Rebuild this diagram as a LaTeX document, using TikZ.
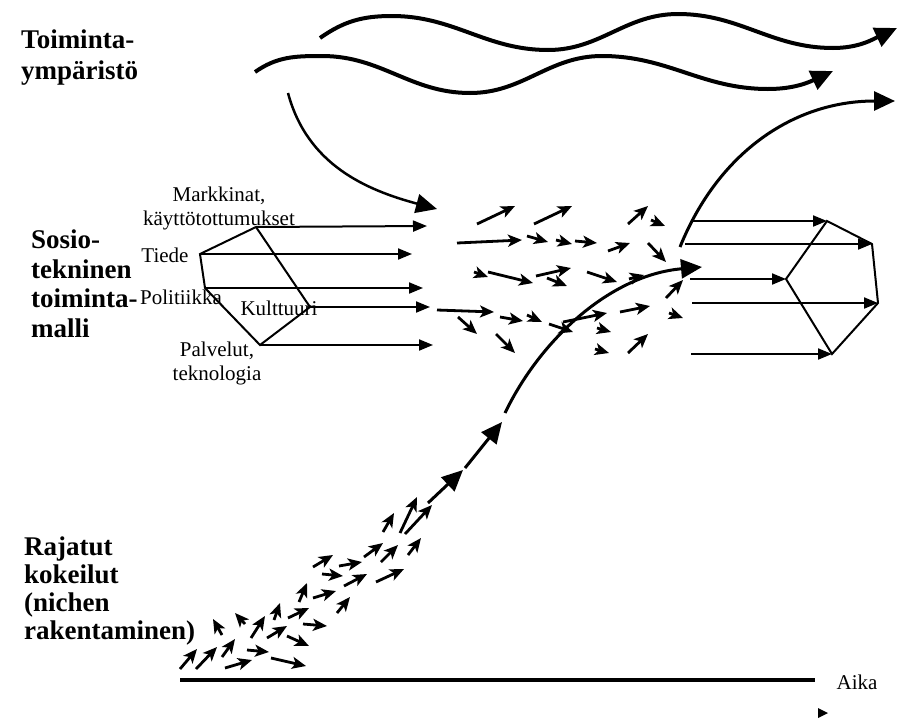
\documentclass[tikz,border=0pt]{standalone}
\usepackage{fontspec}
\setmainfont{Liberation Serif}[BoldFont={Liberation Serif Bold}]
\usetikzlibrary{arrows.meta}
\tikzset{
  etichetta/.style={font=\fontsize{21}{24}\selectfont, inner sep=0pt, align=center},
  titolo/.style={font=\bfseries\fontsize{27}{29.5}\selectfont, inner sep=0pt, align=left, anchor=west},
  lato/.style={line width=2pt, line join=miter},
  freccia/.style={line width=2pt, -{Triangle[length=14pt,width=11pt]}},
  frecciona/.style={line width=3pt, -{Triangle[length=21pt,width=19pt]}},
  onda/.style={line width=4pt, -{Triangle[length=22pt,width=20pt]}},
  frecetta/.style={line width=2.8pt, -{Stealth[length=14pt,width=12pt,inset=3.5pt]}},
}
\begin{document}
\begin{tikzpicture}[x=1pt,y=1pt]
    \useasboundingbox (0,0) rectangle (899,-718);

    % titoli
    \node[titolo, font=\bfseries\fontsize{27}{31}\selectfont] (ambiente) at (21,-58) {Toiminta-\\ympäristö};
    \node[titolo] (regime) at (31,-284) {Sosio-\\tekninen\\toiminta-\\malli};
    \node[titolo, font=\bfseries\fontsize{27}{28}\selectfont] (nicchie) at (24,-591) {Rajatut\\kokeilut\\(nichen\\rakentaminen)};

    % onde in alto
    \draw[onda] (320,-38) to[out=35,in=180] (392,-16) to[out=0,in=180] (548,-50)
        to[out=0,in=180] (678,-14) to[out=0,in=180] (833,-48) to[out=0,in=205] (897,-28);
    \draw[onda] (255,-72) to[out=35,in=180] (322,-56) to[out=0,in=180] (470,-93)
        to[out=0,in=180] (602,-56) to[out=0,in=180] (768,-89) to[out=0,in=205] (833,-71);
    \draw[frecciona, line width=2.5pt] (288,-93) to[out=-75,in=165] (437,-209);
    \draw[frecciona] (680,-247) to[out=68,in=180] (895,-101);

    % pentagono sinistro
    \coordinate (ma) at (256,-227);
    \coordinate (ti) at (200,-254);
    \coordinate (po) at (205,-288);
    \coordinate (pa) at (260,-345);
    \coordinate (ku) at (310,-307);
    \draw[lato] (ma) -- (ti) -- (po) -- (pa) -- (ku) -- cycle;
    \coordinate (fma) at (427,-226);
    \coordinate (fti) at (412,-254);
    \coordinate (fpo) at (423,-288);
    \coordinate (fku) at (430,-307);
    \coordinate (fpa) at (433,-345);
    \draw[freccia] (ma) -- (fma);
    \draw[freccia] (ti) -- (fti);
    \draw[freccia] (po) -- (fpo);
    \draw[freccia] (ku) -- (fku);
    \draw[freccia] (pa) -- (fpa);

    \node[etichetta] (mercati) at (219,-208) {Markkinat,\\käyttötottumukset};
    \node[etichetta] (scienza) at (165,-255) {Tiede};
    \node[etichetta] (politica) at (181,-297) {Politiikka};
    \node[etichetta] (cultura) at (279,-308) {Kulttuuri};
    \node[etichetta] (servizi) at (217,-363) {Palvelut,\\teknologia};

    % pentagono destro
    \coordinate (ra) at (827,-221);
    \coordinate (rb) at (872,-244);
    \coordinate (rc) at (878,-303);
    \coordinate (rd) at (832,-354);
    \coordinate (re) at (786,-279);
    \draw[lato] (ra) -- (rb) -- (rc) -- (rd) -- (re) -- cycle;
    \coordinate (sra) at (692,-221);
    \coordinate (srb) at (685,-244);
    \coordinate (sre) at (690,-279);
    \coordinate (src) at (692,-303);
    \coordinate (srd) at (691,-354);
    \draw[freccia] (sra) -- (ra);
    \draw[freccia] (srb) -- (rb);
    \draw[freccia] (sre) -- (re);
    \draw[freccia] (src) -- (rc);
    \draw[freccia] (srd) -- (rd);

    % curva principale
    \draw[frecciona] (505,-413) .. controls (540,-340) and (610,-275) .. (702,-267);
    \draw[frecciona] (428,-503) -- (463,-470);
    \draw[frecciona] (465,-468) -- (502,-422);

    % frecce piccole
    \foreach \a/\b/\c/\d in {477/224/515/206, 534/224/572/206, 628/224/648/206, 651/220/665/226,
        457/243/522/240, 527/236/548/242, 556/240/572/244, 575/241/597/243, 608/251/630/243,
        648/243/666/262, 474/272/488/277, 488/272/533/283, 536/276/571/268, 547/278/567/286,
        587/272/617/282, 629/279/644/275, 666/298/683/280, 437/310/494/312, 458/317/477/334,
        500/317/523/321, 527/315/542/322, 549/324/573/332, 563/322/607/313, 620/312/650/306,
        669/313/683/318, 496/334/515/353, 597/328/611/332, 595/349/609/353, 628/353/648/334}
        \draw[frecetta] (\a,-\b) -- (\c,-\d);
    \foreach \a/\b/\c/\d in {405/534/432/505, 400/533/417/497, 383/532/394/513, 364/557/383/543,
        381/562/398/545, 408/555/421/538, 313/567/333/555, 339/566/362/562, 322/574/343/576,
        344/586/367/574, 376/582/404/569, 299/602/307/583, 313/598/336/591, 337/613/350/597,
        288/618/309/608, 303/624/327/626, 251/638/265/616, 274/620/280/603, 267/638/287/626,
        287/636/309/646, 222/635/213/619, 245/624/235/613, 180/669/197/649, 196/669/217/647,
        222/657/235/639, 247/650/269/652, 225/668/252/660, 271/658/306/666}
        \draw[frecetta] (\a,-\b) -- (\c,-\d);

    % asse del tempo
    \coordinate (t0) at (180,-680);
    \coordinate (t1) at (815,-680);
    \draw[line width=3.5pt] (t0) -- (t1);
    \node[etichetta] (tempo) at (857,-682) {Aika};
    \fill (818,-708) -- (828,-713) -- (818,-718) -- cycle;
\end{tikzpicture}
\end{document}
